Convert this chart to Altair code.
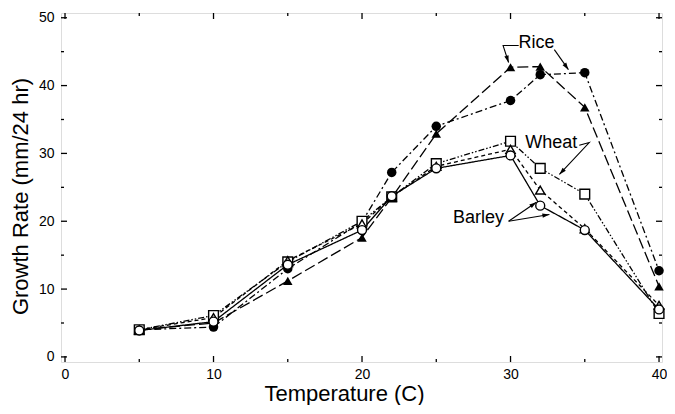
import math
import altair as alt
import pandas as pd

# ---------------- data ----------------
temps = [5, 10, 15, 20, 22, 25, 30, 32, 35, 40]
rice_circle = [4.0, 4.4, 13.0, 19.9, 27.2, 34.0, 37.8, 41.6, 41.9, 12.7]
rice_triangle = [4.0, 5.0, 11.2, 17.6, 23.5, 32.9, 42.7, 42.8, 36.8, 10.4]
wheat_square = [4.0, 6.1, 14.0, 20.0, 23.6, 28.5, 31.8, 27.8, 24.0, 6.4]
barley_triangle = [4.0, 5.8, 14.2, 19.6, 23.6, 28.1, 30.6, 24.6, 18.9, 7.6]
barley_circle = [3.9, 5.2, 13.6, 18.7, 23.7, 27.8, 29.7, 22.3, 18.7, 7.0]

x_labels = [0, 10, 20, 30, 40]
y_labels = [0, 10, 20, 30, 40, 50]

# label annotations (data units)
ann_text = ["Rice", "Wheat", "Barley"]
ann_x = [31.75, 32.75, 27.85]
ann_y = [46.3, 31.5, 20.45]

# leader lines: (group, x, y) — last point of each group is arrow tip
lead_group = ["r1", "r1", "r1", "r2", "r2", "w1", "w1", "w1", "b1", "b1", "b2", "b2"]
lead_x = [30.55, 29.5, 29.87, 32.95, 33.9, 34.63, 35.3, 33.29, 29.87, 31.74, 29.87, 32.62]
lead_y = [45.9, 45.9, 43.4, 45.3, 42.35, 31.2, 31.6, 26.9, 20.0, 22.8, 20.0, 21.0]

# ---------------- geometry / style ----------------
W, H = 601, 349
XMIN, XMAX = -0.27, 40.2
YMIN, YMAX = -0.75, 50.7
INK = "#000000"
FONT = "Liberation Sans"

xs = alt.Scale(domain=[XMIN, XMAX], nice=False, zero=False)
ys = alt.Scale(domain=[YMIN, YMAX], nice=False, zero=False)

xaxis = alt.Axis(values=x_labels, ticks=False, domain=False, grid=False,
                 labelFontSize=14, labelColor=INK, labelFont=FONT, labelPadding=5,
                 title="Temperature (C)", titleFontSize=22, titleFontWeight="normal",
                 titleFont=FONT, titleColor=INK, titlePadding=2, titleX=283)
yaxis = alt.Axis(values=y_labels, ticks=False, domain=False, grid=False,
                 labelFontSize=14, labelColor=INK, labelFont=FONT, labelPadding=7,
                 title="Growth Rate (mm/24 hr)", titleFontSize=22, titleFontWeight="normal",
                 titleFont=FONT, titleColor=INK, titlePadding=6, titleY=183)

X = alt.X("temp:Q", scale=xs, axis=xaxis)
Y = alt.Y("rate:Q", scale=ys, axis=yaxis)

series = [
    ("Rice A", rice_circle, [7, 3, 2, 3], "circle", True, 90),
    ("Rice B", rice_triangle, [11, 4], "triangle-up", True, 90),
    ("Wheat", wheat_square, [6, 2, 1.5, 2, 1.5, 2], "square", False, 95),
    ("Barley A", barley_triangle, [4, 3], "triangle-up", False, 85),
    ("Barley B", barley_circle, [1, 0], "circle", False, 80),
]

layers = []
for name, vals, dash, shape, filled, size in series:
    d = pd.DataFrame({"temp": temps, "rate": vals})
    base = alt.Chart(d)
    layers.append(base.mark_line(color=INK, strokeWidth=1.3, strokeDash=dash).encode(x=X, y=Y))
for name, vals, dash, shape, filled, size in series:
    d = pd.DataFrame({"temp": temps, "rate": vals})
    base = alt.Chart(d)
    if filled:
        pts = base.mark_point(shape=shape, filled=True, color=INK, size=size, opacity=1)
    else:
        pts = base.mark_point(shape=shape, filled=True, color="white", stroke=INK,
                              strokeWidth=1.4, size=size, opacity=1)
    layers.append(pts.encode(x=X, y=Y))

# inward tick marks on all four sides
def tick_df_x(vals):
    return pd.DataFrame({"temp": vals})

def tick_df_y(vals):
    return pd.DataFrame({"rate": vals})

x_major = [0, 10, 20, 30, 40]
x_minor = [5, 15, 25, 35]
y_major = [0, 10, 20, 30, 40, 50]
y_minor = [5, 15, 25, 35, 45]
for vals, ln in ((x_major, 6), (x_minor, 3)):
    c = alt.Chart(tick_df_x(vals))
    layers.append(c.mark_rule(color=INK, strokeWidth=1.3).encode(x=X, y=alt.value(H), y2=alt.value(H - ln)))
    layers.append(c.mark_rule(color=INK, strokeWidth=1.3).encode(x=X, y=alt.value(0), y2=alt.value(ln)))
for vals, ln in ((y_major, 6), (y_minor, 3)):
    c = alt.Chart(tick_df_y(vals))
    layers.append(c.mark_rule(color=INK, strokeWidth=1.3).encode(y=Y, x=alt.value(0), x2=alt.value(ln)))
    layers.append(c.mark_rule(color=INK, strokeWidth=1.3).encode(y=Y, x=alt.value(W), x2=alt.value(W - ln)))

# annotation text
adf = pd.DataFrame({"temp": ann_x, "rate": ann_y, "label": ann_text})
layers.append(alt.Chart(adf).mark_text(font=FONT, fontSize=18, color=INK, align="center",
                                       baseline="middle").encode(x=X, y=Y, text="label:N"))

# leader lines
ldf = pd.DataFrame({"temp": lead_x, "rate": lead_y, "grp": lead_group,
                    "ord": list(range(len(lead_x)))})
layers.append(alt.Chart(ldf).mark_line(color=INK, strokeWidth=1.1).encode(
    x=X, y=Y, detail="grp:N", order="ord:Q"))

# arrowheads at tips
sx = W / (XMAX - XMIN)
sy = H / (YMAX - YMIN)
tips = []
for g in dict.fromkeys(lead_group):
    idx = [i for i, gg in enumerate(lead_group) if gg == g]
    a, b = idx[-2], idx[-1]
    dx = (lead_x[b] - lead_x[a]) * sx
    dy = -(lead_y[b] - lead_y[a]) * sy
    ang = math.degrees(math.atan2(dx, -dy)) % 360
    tips.append({"temp": lead_x[b], "rate": lead_y[b], "ang": ang})
tdf = pd.DataFrame(tips)
arrow_shape = "M0,0L0.6,1.9L-0.6,1.9Z"
layers.append(alt.Chart(tdf).mark_point(shape=arrow_shape, filled=True, color=INK, size=55,
                                        opacity=1).encode(
    x=X, y=Y, angle=alt.Angle("ang:Q", scale=None)))

chart = alt.layer(*layers).properties(
    width=W, height=H,
    autosize=alt.AutoSizeParams(type="none"),
    padding={"left": 53, "top": 5, "right": 5, "bottom": 43},
).configure_view(stroke=INK, strokeWidth=1.5).configure(background="white")

chart.save("out.html", embed_options={"renderer": "svg", "actions": False})
